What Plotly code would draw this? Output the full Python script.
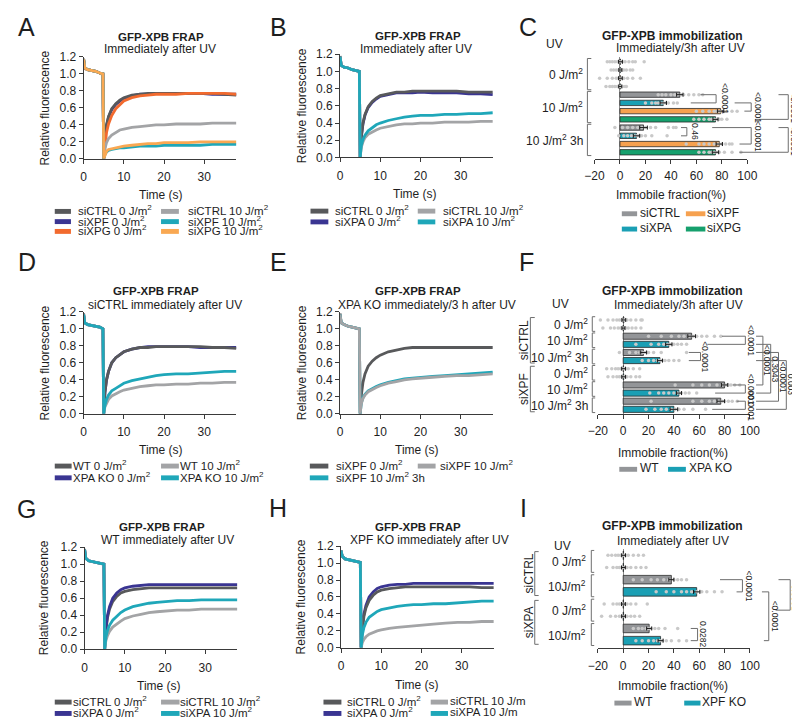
import plotly.graph_objects as go

W, H = 800, 721
FONT = "Liberation Sans, Arial, Helvetica, sans-serif"
INK = "#1e1e1e"
AXIS = "#3a3a3a"
BRACKET = "#6e6e6e"

# FRAP line colours
C_DARK = "#58595b"
C_BLUE = "#3a3592"
C_ORANGE = "#f26a2e"
C_LGRAY = "#a3a4a6"
C_TEAL = "#1fa7b9"
C_LORANGE = "#f9a852"
# bar colours
B_GRAY = "#939598"
B_TEAL = "#1a9fb4"
B_ORANGE = "#f6a14f"
B_GREEN = "#16a06d"
DOT = "#c9c9c9"

# ---------------- FRAP data (time in s, relative fluorescence) ----------------
frap_t = [0, 0.3, 1, 2, 3, 4, 4.8, 5.0, 5.3, 5.7, 6.2, 7, 8, 9, 10, 12, 14, 16, 18, 20, 23, 26, 29, 32, 35, 38]

# A
a_ctrl0 = [1.18, 1.07, 1.05, 1.04, 1.03, 1.01, 1.00, 0.00, 0.25, 0.40, 0.50, 0.59, 0.65, 0.69, 0.72, 0.75, 0.76, 0.77, 0.77, 0.77, 0.77, 0.77, 0.77, 0.77, 0.76, 0.75]
a_xpf0 = [1.17, 1.07, 1.05, 1.04, 1.03, 1.01, 1.00, 0.00, 0.24, 0.39, 0.49, 0.58, 0.64, 0.68, 0.71, 0.74, 0.76, 0.76, 0.77, 0.77, 0.77, 0.77, 0.77, 0.76, 0.76, 0.76]
a_xpg0 = [1.17, 1.06, 1.05, 1.04, 1.03, 1.01, 0.99, 0.00, 0.18, 0.31, 0.41, 0.51, 0.59, 0.64, 0.68, 0.72, 0.74, 0.75, 0.76, 0.76, 0.76, 0.77, 0.77, 0.77, 0.77, 0.76]
a_ctrl10 = [1.17, 1.07, 1.05, 1.04, 1.03, 1.01, 1.00, 0.00, 0.12, 0.19, 0.24, 0.28, 0.31, 0.34, 0.35, 0.37, 0.38, 0.39, 0.40, 0.40, 0.41, 0.41, 0.41, 0.42, 0.42, 0.42]
a_xpf10 = [1.17, 1.07, 1.05, 1.04, 1.03, 1.01, 1.00, 0.00, 0.05, 0.08, 0.10, 0.11, 0.12, 0.13, 0.13, 0.14, 0.15, 0.15, 0.15, 0.16, 0.16, 0.16, 0.16, 0.17, 0.17, 0.17]
a_xpg10 = [1.17, 1.07, 1.05, 1.04, 1.03, 1.01, 1.00, 0.00, 0.05, 0.09, 0.11, 0.12, 0.13, 0.14, 0.15, 0.16, 0.17, 0.18, 0.18, 0.19, 0.19, 0.19, 0.20, 0.20, 0.20, 0.20]

# B
b_ctrl0 = [1.18, 1.07, 1.05, 1.04, 1.02, 1.01, 1.00, 0.00, 0.25, 0.40, 0.50, 0.59, 0.65, 0.69, 0.72, 0.74, 0.76, 0.76, 0.77, 0.77, 0.77, 0.77, 0.77, 0.76, 0.76, 0.76]
b_xpa0 = [1.17, 1.07, 1.05, 1.04, 1.02, 1.01, 1.00, 0.00, 0.24, 0.39, 0.49, 0.58, 0.64, 0.68, 0.71, 0.73, 0.75, 0.75, 0.75, 0.76, 0.75, 0.75, 0.75, 0.74, 0.74, 0.73]
b_ctrl10 = [1.17, 1.07, 1.05, 1.04, 1.02, 1.01, 1.00, 0.00, 0.12, 0.18, 0.23, 0.27, 0.30, 0.32, 0.34, 0.36, 0.38, 0.39, 0.39, 0.40, 0.40, 0.41, 0.41, 0.41, 0.42, 0.42]
b_xpa10 = [1.17, 1.07, 1.05, 1.04, 1.02, 1.01, 1.00, 0.00, 0.14, 0.21, 0.26, 0.31, 0.35, 0.38, 0.40, 0.43, 0.45, 0.47, 0.48, 0.49, 0.49, 0.50, 0.50, 0.51, 0.51, 0.52]

# D
d_wt0 = [1.18, 1.07, 1.05, 1.04, 1.03, 1.02, 1.00, 0.00, 0.25, 0.40, 0.50, 0.60, 0.66, 0.70, 0.73, 0.76, 0.78, 0.78, 0.79, 0.79, 0.79, 0.79, 0.79, 0.78, 0.78, 0.77]
d_ko0 = [1.17, 1.07, 1.05, 1.04, 1.03, 1.02, 1.00, 0.00, 0.25, 0.40, 0.50, 0.60, 0.66, 0.70, 0.73, 0.76, 0.78, 0.79, 0.79, 0.79, 0.79, 0.79, 0.78, 0.78, 0.78, 0.78]
d_wt10 = [1.17, 1.07, 1.05, 1.04, 1.03, 1.02, 1.00, 0.00, 0.08, 0.13, 0.17, 0.21, 0.24, 0.26, 0.28, 0.30, 0.32, 0.33, 0.34, 0.34, 0.35, 0.35, 0.36, 0.36, 0.37, 0.37]
d_ko10 = [1.17, 1.07, 1.05, 1.04, 1.03, 1.02, 1.00, 0.00, 0.10, 0.17, 0.22, 0.27, 0.30, 0.33, 0.36, 0.39, 0.41, 0.43, 0.45, 0.46, 0.47, 0.47, 0.48, 0.49, 0.50, 0.50]

# E
e_xpf0 = [1.18, 1.07, 1.05, 1.03, 1.02, 1.01, 1.00, 0.00, 0.22, 0.37, 0.47, 0.56, 0.62, 0.66, 0.69, 0.73, 0.75, 0.77, 0.78, 0.78, 0.78, 0.78, 0.78, 0.78, 0.78, 0.78]
e_xpf10 = [1.17, 1.07, 1.05, 1.03, 1.02, 1.01, 1.00, 0.00, 0.12, 0.18, 0.22, 0.26, 0.29, 0.31, 0.33, 0.36, 0.38, 0.40, 0.41, 0.42, 0.43, 0.44, 0.45, 0.45, 0.46, 0.47]
e_xpf10_3h = [1.17, 1.07, 1.05, 1.03, 1.02, 1.01, 1.00, 0.00, 0.13, 0.19, 0.23, 0.27, 0.30, 0.32, 0.34, 0.37, 0.39, 0.41, 0.42, 0.43, 0.44, 0.45, 0.46, 0.47, 0.48, 0.49]

# G
g_ctrl0 = [1.18, 1.07, 1.04, 1.03, 1.02, 1.01, 1.00, 0.00, 0.22, 0.37, 0.47, 0.56, 0.62, 0.66, 0.68, 0.70, 0.71, 0.72, 0.72, 0.72, 0.72, 0.72, 0.72, 0.72, 0.72, 0.72]
g_xpa0 = [1.17, 1.07, 1.04, 1.03, 1.02, 1.01, 1.00, 0.00, 0.25, 0.40, 0.50, 0.60, 0.66, 0.70, 0.72, 0.74, 0.75, 0.76, 0.76, 0.76, 0.76, 0.76, 0.76, 0.76, 0.76, 0.76]
g_ctrl10 = [1.17, 1.07, 1.04, 1.03, 1.02, 1.01, 1.00, 0.00, 0.10, 0.16, 0.21, 0.26, 0.30, 0.33, 0.36, 0.39, 0.41, 0.43, 0.44, 0.45, 0.46, 0.46, 0.47, 0.47, 0.47, 0.47]
g_xpa10 = [1.17, 1.07, 1.04, 1.03, 1.02, 1.01, 1.00, 0.00, 0.14, 0.22, 0.28, 0.34, 0.39, 0.43, 0.46, 0.50, 0.52, 0.54, 0.55, 0.56, 0.57, 0.57, 0.58, 0.58, 0.58, 0.58]

# H
h_ctrl0 = [1.15, 1.08, 1.05, 1.04, 1.03, 1.02, 1.01, 0.00, 0.22, 0.37, 0.47, 0.56, 0.62, 0.66, 0.68, 0.70, 0.71, 0.72, 0.72, 0.72, 0.72, 0.72, 0.72, 0.72, 0.71, 0.71]
h_xpa0 = [1.15, 1.08, 1.05, 1.04, 1.03, 1.02, 1.01, 0.00, 0.25, 0.40, 0.50, 0.60, 0.66, 0.70, 0.72, 0.74, 0.75, 0.75, 0.76, 0.76, 0.76, 0.76, 0.76, 0.76, 0.76, 0.76]
h_ctrl10 = [1.15, 1.08, 1.05, 1.04, 1.03, 1.02, 1.01, 0.00, 0.06, 0.10, 0.13, 0.16, 0.18, 0.20, 0.21, 0.23, 0.24, 0.25, 0.26, 0.27, 0.28, 0.29, 0.30, 0.30, 0.31, 0.31]
h_xpa10 = [1.15, 1.08, 1.05, 1.04, 1.03, 1.02, 1.01, 0.00, 0.15, 0.24, 0.30, 0.36, 0.40, 0.43, 0.45, 0.47, 0.49, 0.50, 0.51, 0.51, 0.52, 0.52, 0.53, 0.54, 0.55, 0.55]

# ---------------- immobile fraction data (%) ----------------
# C: doses 0, 10, 10 3h
c_doses = ["0 J/m<sup>2</sup>", "10 J/m<sup>2</sup>", "10 J/m<sup>2</sup> 3h"]
c_ctrl_mean = [0.4, 47, 18.5]
c_xpa_mean = [0.3, 34, 13]
c_xpf_mean = [0.3, 79, 78]
c_xpg_mean = [0.2, 75, 75]
c_ctrl_sem = [1.5, 2.5, 3]
c_xpa_sem = [1.2, 2.5, 2.5]
c_xpf_sem = [1.5, 2.5, 2.5]
c_xpg_sem = [1.2, 2, 2.5]
c_ctrl_pts = [[-10, -8, -6, -4, -2, 0, 2, 4, 7, 10, 12, 19], [30, 33, 36, 40, 43, 45, 48, 50, 54, 58, 62, 65], [-4, 2, 6, 10, 14, 17, 20, 24, 28, 38, 42, 44]]
c_xpa_pts = [[-7, -5, -3, -1, 1, 3, 5, 8, 10], [20, 25, 28, 30, 32, 34, 36, 38, 42, 45], [-1, 3, 6, 9, 11, 13, 15, 17, 20, 25, 37]]
c_xpf_pts = [[-16, -10, -6, -3, -1, 1, 3, 6, 10, 16], [60, 65, 70, 74, 76, 78, 80, 82, 84, 88, 92], [52, 62, 66, 70, 74, 77, 80, 83, 86, 88]]
c_xpg_pts = [[-11, -8, -6, -4, -2, 0, 2, 4, 5], [58, 62, 66, 70, 72, 74, 76, 78, 80, 84], [62, 66, 70, 72, 74, 76, 78, 82, 88, 95]]
c_pvals = [(4, 5, "<0.0001"), (5, 6, "<0.0001"), (4, 7, "<0.0001"), (8, 9, "0.46"), (8, 10, "<0.0001"), (8, 11, "<0.0001")]

# F: siCTRL 0, 10, 10 3h, siXPF 0, 10, 10 3h
f_groups = ["siCTRL", "siXPF"]
f_doses = ["0 J/m<sup>2</sup>", "10 J/m<sup>2</sup>", "10 J/m<sup>2</sup> 3h"]
f_wt_mean = [0.5, 54, 16, 0.3, 80, 77]
f_ko_mean = [0.2, 36, 29, 0.4, 44, 40]
f_wt_sem = [1.5, 3, 2.5, 1.5, 2.5, 3]
f_ko_sem = [1.2, 2.5, 2, 1.5, 2, 3]
f_wt_pts = [[-18, -12, -8, -5, -3, -1, 1, 3, 6, 10, 14, 15], [20, 30, 38, 44, 48, 52, 55, 58, 62, 66, 72, 77], [-3, 5, 10, 13, 16, 18, 20, 24, 30, 50],
            [-13, -9, -6, -4, -2, 0, 2, 4, 8, 13], [41, 55, 62, 68, 74, 78, 81, 83, 85, 88, 92], [22, 55, 62, 68, 72, 75, 78, 80, 83, 86, 90]]
f_ko_pts = [[-16, -10, -7, -4, -2, 0, 2, 4, 7, 10, 14], [10, 22, 28, 32, 35, 38, 40, 43, 46, 50], [15, 20, 24, 27, 29, 31, 33, 36, 40, 44],
            [-12, -8, -5, -3, -1, 1, 3, 6, 10, 13], [21, 28, 32, 36, 40, 43, 46, 49, 52, 58], [18, 25, 30, 34, 38, 41, 44, 48, 55, 65]]
f_pvals = [(2, 3, "<0.0001"), (4, 5, "<0.0001"), (8, 9, "<0.0001"), (10, 11, "<0.0001"),
           (2, 8, "<0.0001"), (3, 9, "0.3043"), (4, 10, "<0.0001"), (5, 11, "0.003")]

# I: siCTRL 0, 10, siXPA 0, 10
i_groups = ["siCTRL", "siXPA"]
i_doses = ["0 J/m<sup>2</sup>", "10J/m<sup>2</sup>"]
i_wt_mean = [0.3, 38, 0.2, 20.5]
i_ko_mean = [0.2, 58, 0.3, 29.5]
i_wt_sem = [1.5, 2, 1.5, 2]
i_ko_sem = [1.5, 2.5, 1.5, 2]
i_wt_pts = [[-12, -9, -6, -4, -2, 0, 2, 4, 8, 12, 16], [8, 15, 22, 27, 32, 36, 40, 43, 46, 50], [-15, -8, -5, -3, -1, 1, 3, 6, 10, 19], [8, 12, 15, 18, 20, 22, 25, 28, 33, 43]]
i_ko_pts = [[-13, -8, -5, -3, -1, 1, 3, 6, 10, 14, 18], [26, 34, 40, 46, 50, 54, 58, 62, 66, 72, 78], [-17, -10, -6, -3, -1, 1, 3, 6, 9, 13], [10, 15, 20, 24, 27, 29, 31, 34, 38, 44, 50]]
i_pvals = [(2, 3, "<0.0001"), (6, 7, "0.0282"), (3, 7, "<0.0001"), (2, 4.5, "<0.0001")]

SQ = " J/m<sup>2</sup>"

# ---------------- helpers ----------------
fig = go.Figure()
axes = {}
ann = []
shp = []


def px(x):
    return x / W


def py(y):
    return 1 - y / H


def label(x, y, text, size=12, anchor="center", angle=0, yref="paper", bold=False):
    ann.append(dict(x=px(x), y=py(y) if yref == "paper" else y, xref="paper", yref=yref,
                    text="<b>%s</b>" % text if bold else text, showarrow=False,
                    xanchor=anchor, yanchor="middle", textangle=angle, borderpad=0,
                    font=dict(family=FONT, size=size, color=INK)))


def base_axis():
    return dict(showline=True, linecolor=AXIS, linewidth=1, ticks="outside", ticklen=4,
                tickwidth=1, tickcolor=AXIS, showgrid=False, zeroline=False,
                tickfont=dict(family=FONT, size=12, color=INK))


def sfx(n):
    return "" if n == 1 else str(n)


def frap_panel(n, box, curves, subtitle, title_xy, sub_xy, ytitle_x, time_xy):
    s = sfx(n)
    x0, x1, ytop, ybot = box
    axes["xaxis" + s] = dict(base_axis(), domain=[px(x0), px(x1)], range=[0, 38],
                             tickvals=[0, 10, 20, 30], ticklabelstandoff=3, anchor="y" + s)
    axes["yaxis" + s] = dict(base_axis(), domain=[py(ybot), py(ytop)], range=[0, 1.2],
                             tickvals=[0, 0.2, 0.4, 0.6, 0.8, 1.0, 1.2], tickformat=".1f", anchor="x" + s)
    for vals, color in curves:
        fig.add_trace(go.Scatter(x=frap_t, y=vals, mode="lines", line=dict(color=color, width=2.8),
                                 xaxis="x" + s, yaxis="y" + s, showlegend=False, hoverinfo="skip"))
    label(*title_xy, "GFP-XPB FRAP", size=11.5, bold=True)
    label(*sub_xy, subtitle)
    label(ytitle_x, (ytop + ybot) / 2, "Relative fluorescence", angle=-90)
    label(*time_xy, "Time (s)")


def legend(items, colors, col_sw, col_lab, rows_y, sw_h=5, size=11.5):
    for i, (txt, col) in enumerate(zip(items, colors)):
        r, c = divmod(i, 2)
        xa, xb = col_sw[c]
        y = rows_y[r]
        shp.append(dict(type="rect", xref="paper", yref="paper", x0=px(xa), x1=px(xb),
                        y0=py(y + sw_h / 2), y1=py(y - sw_h / 2), fillcolor=col, line=dict(width=0)))
        label(col_lab[c] - 1, y - 1, txt, anchor="left", size=size)


def bar_axes(n, box, yrange, title, subtitle, title_xy, sub_xy, xt_xy):
    s = sfx(n)
    x0, x1, ytop, ybot = box
    axes["xaxis" + s] = dict(base_axis(), domain=[px(x0), px(x1)], range=[-20, 100],
                             tickvals=[-20, 0, 20, 40, 60, 80, 100], zeroline=True, ticklabelstandoff=2,
                             zerolinecolor="#8c8c8c", zerolinewidth=1, anchor="y" + s)
    axes["yaxis" + s] = dict(domain=[py(ybot), py(ytop)], range=yrange, anchor="x" + s, visible=False)
    label(*title_xy, title, size=12, bold=True)
    label(*sub_xy, subtitle)
    label(*xt_xy, "Immobile fraction(%)")


def bars(n, rows, means, sems, pts, color, width):
    s = sfx(n)
    fig.add_trace(go.Bar(x=means, y=rows, orientation="h", width=width,
                         marker=dict(color=color, line=dict(color="#2b2b2b", width=0.8)),
                         xaxis="x" + s, yaxis="y" + s, showlegend=False, hoverinfo="skip"))
    for r, p in zip(rows, pts):
        fig.add_trace(go.Scatter(x=p, y=[r] * len(p), mode="markers",
                                 marker=dict(size=3.5, color=DOT),
                                 xaxis="x" + s, yaxis="y" + s, showlegend=False, hoverinfo="skip"))
    fig.add_trace(go.Scatter(x=means, y=rows, mode="markers", marker=dict(size=1, color="rgba(0,0,0,0)"),
                             error_x=dict(type="data", array=sems, color="#1a1a1a", thickness=1, width=2),
                             xaxis="x" + s, yaxis="y" + s, showlegend=False, hoverinfo="skip"))


def bracket(n, x_v, x_end, r0, r1):
    shp.append(dict(type="path", xref="paper", yref="y" + sfx(n),
                    path="M%f,%f L%f,%f L%f,%f L%f,%f" % (px(x_end), r0, px(x_v), r0, px(x_v), r1, px(x_end), r1),
                    line=dict(color=BRACKET, width=1)))


def pbrackets(n, comps, geo):
    for (ra, rb, txt), (sa, sb, v, tx) in zip(comps, geo):
        shp.append(dict(type="path", xref="paper", yref="y" + sfx(n),
                        path="M%f,%f L%f,%f L%f,%f L%f,%f" % (px(sa), ra, px(v), ra, px(v), rb, px(sb), rb),
                        line=dict(color=BRACKET, width=1)))
        label(tx, (ra + rb) / 2, txt, size=8.5, angle=90, yref="y" + sfx(n))


# ---------------- FRAP panels ----------------
frap_panel(1, (67.3, 224, 42.7, 146.7),
           [(a_xpf0, C_BLUE), (a_ctrl0, C_DARK), (a_xpg0, C_ORANGE), (a_ctrl10, C_LGRAY), (a_xpf10, C_TEAL), (a_xpg10, C_LORANGE)],
           "Immediately after UV", (146.7, 22.3), (145.5, 35), 27.3, (146.7, 183.3))
legend(["siCTRL 0" + SQ, "siCTRL 10" + SQ, "siXPF 0" + SQ, "siXPF 10" + SQ, "siXPG 0" + SQ, "siXPG 10" + SQ],
       [C_DARK, C_LGRAY, C_BLUE, C_TEAL, C_ORANGE, C_LORANGE],
       [(37.7, 54.3), (146.7, 165)], [62, 174.3], [200.3, 210.7, 220.7])

frap_panel(2, (330.3, 487, 40, 145.3),
           [(b_xpa0, C_BLUE), (b_ctrl0, C_DARK), (b_ctrl10, C_LGRAY), (b_xpa10, C_TEAL)],
           "Immediately after UV", (410, 21.7), (408, 34.3), 290.7, (406.7, 183))
legend(["siCTRL 0" + SQ, "siCTRL 10" + SQ, "siXPA 0" + SQ, "siXPA 10" + SQ],
       [C_DARK, C_LGRAY, C_BLUE, C_TEAL],
       [(300, 318.3), (410, 428)], [325, 435.7], [200, 211])

frap_panel(4, (67.3, 224, 302.7, 406.7),
           [(d_ko0, C_BLUE), (d_wt0, C_DARK), (d_wt10, C_LGRAY), (d_ko10, C_TEAL)],
           "siCTRL immediately after UV", (142, 281), (151, 295.7), 27.3, (146.7, 443.3))
legend(["WT 0" + SQ, "WT 10" + SQ, "XPA KO 0" + SQ, "XPA KO 10" + SQ],
       [C_DARK, C_LGRAY, C_BLUE, C_TEAL],
       [(37.7, 55), (146.7, 165)], [56.5, 166.5], [460, 472])

frap_panel(5, (330.3, 487, 302.7, 406.7),
           [(e_xpf0, C_DARK), (e_xpf10_3h, C_TEAL), (e_xpf10, C_LGRAY)],
           "XPA KO immediately/3 h after UV", (410, 281), (419, 296), 290.7, (409, 443.3))
legend(["siXPF 0" + SQ, "siXPF 10" + SQ, "siXPF 10" + SQ + " 3h"],
       [C_DARK, C_LGRAY, C_TEAL],
       [(299.3, 318.3), (410, 428.3)], [325.7, 432.3], [460, 472])

frap_panel(7, (68.3, 225, 542.7, 646.7),
           [(g_ctrl0, C_DARK), (g_xpa0, C_BLUE), (g_ctrl10, C_LGRAY), (g_xpa10, C_TEAL)],
           "WT immediately after UV", (147.5, 521.7), (153, 535.7), 26.7, (145, 684))
legend(["siCTRL 0" + SQ, "siCTRL 10" + SQ, "siXPA 0" + SQ, "siXPA 10" + SQ],
       [C_DARK, C_LGRAY, C_BLUE, C_TEAL],
       [(37.7, 55), (146.7, 165.7)], [56.5, 166.5], [700.7, 712.3])

frap_panel(8, (331.3, 488, 541.7, 645.3),
           [(h_xpa0, C_BLUE), (h_ctrl0, C_DARK), (h_ctrl10, C_LGRAY), (h_xpa10, C_TEAL)],
           "XPF KO immediately after UV", (410.5, 521.7), (422, 535.7), 290.7, (409, 683.3))
legend(["siCTRL 0" + SQ, "siCTRL 10 J/m", "siXPA 0" + SQ, "siXPA 10 J/m"],
       [C_DARK, C_LGRAY, C_BLUE, C_TEAL],
       [(313.3, 331.7), (423.3, 441)], [337.3, 443.3], [700.7, 712.3])

# ---------------- C ----------------
bar_axes(3, (591.3, 748, 43, 146.7), [11.8, -0.56], "GFP-XPB immobilization", "Immediately/3h after UV",
         (671.7, 21.7), (679.3, 33.3), (669.3, 183.3))
for k, (m, e, p, col) in enumerate([(c_ctrl_mean, c_ctrl_sem, c_ctrl_pts, B_GRAY), (c_xpa_mean, c_xpa_sem, c_xpa_pts, B_TEAL),
                                    (c_xpf_mean, c_xpf_sem, c_xpf_pts, B_ORANGE), (c_xpg_mean, c_xpg_sem, c_xpg_pts, B_GREEN)]):
    bars(3, [4 * d + k for d in range(len(c_doses))], m, e, p, col, 0.65)
label(550, 30, "UV")
for d, txt in enumerate(c_doses):
    label(581, 4 * d + 1.5, txt, anchor="right", yref="y3")
    bracket(3, 584, 588, 4 * d - 0.4, 4 * d + 3.4)
pbrackets(3, c_pvals, [(700, 690, 716, 725), (735, 745, 752, 759), (780, 756, 790, 796),
                       (680, 680, 686, 695), (712, 740, 752, 759), (780, 740, 790, 796)])
legend(["siCTRL", "siXPF", "siXPA", "siXPG"], [B_GRAY, B_ORANGE, B_TEAL, B_GREEN],
       [(619.3, 635), (685, 705)], [638, 707], [202.7, 218.3], size=12)

# ---------------- F ----------------
bar_axes(6, (594.7, 750.7, 306.7, 406.7), [11.55, -0.52], "GFP-XPB immobilization", "Immediately/3h after UV",
         (671.7, 281.7), (677.7, 296), (671.7, 446.7))
bars(6, [2 * k for k in range(6)], f_wt_mean, f_wt_sem, f_wt_pts, B_GRAY, 0.75)
bars(6, [2 * k + 1 for k in range(6)], f_ko_mean, f_ko_sem, f_ko_pts, B_TEAL, 0.75)
label(556, 295, "UV")
for k in range(6):
    label(586, 2 * k + 0.5, f_doses[k % 3], anchor="right", yref="y6")
    bracket(6, 589, 592, 2 * k - 0.4, 2 * k + 1.4)
for g, txt in enumerate(f_groups):
    label(519, 6 * g + 2.5, txt, angle=-90, yref="y6")
    bracket(6, 525.5, 530, 6 * g - 0.3, 6 * g + 5.3)
pbrackets(6, f_pvals, [(722, 707, 746, 752), (688, 688, 700, 705), (733, 715, 746, 752), (737, 712, 746, 752),
                       (757, 757, 764, 769), (757, 757, 772, 777), (757, 757, 780, 785), (757, 757, 788, 793)])
legend(["WT", "XPA KO"], [B_GRAY, B_TEAL], [(616.7, 635), (666.7, 685)], [638, 688], [463.3], size=12)

# ---------------- I ----------------
bar_axes(9, (594.7, 750.7, 545, 646), [7.64, -0.48], "GFP-XPB immobilization", "Immediately after UV",
         (671.7, 521), (671.7, 536), (671.7, 684))
bars(9, [2 * k for k in range(4)], i_wt_mean, i_wt_sem, i_wt_pts, B_GRAY, 0.7)
bars(9, [2 * k + 1 for k in range(4)], i_ko_mean, i_ko_sem, i_ko_pts, B_TEAL, 0.7)
label(558, 541.7, "UV")
for k in range(4):
    label(584, 2 * k + 0.5, i_doses[k % 2], anchor="right", yref="y9")
    bracket(9, 588, 591, 2 * k - 0.4, 2 * k + 1.4)
for g, txt in enumerate(i_groups):
    label(524, 4 * g + 1.5, txt, angle=-90, yref="y9")
    bracket(9, 530, 534, 4 * g - 0.3, 4 * g + 3.3)
pbrackets(9, i_pvals, [(720, 737, 743, 750), (690, 690, 697, 703), (763, 765, 770, 776), (780, 777, 792, 797)])
legend(["WT", "XPF KO"], [B_GRAY, B_TEAL], [(611.7, 629.3), (683.3, 700)], [632, 702], [701.7], size=12)

# ---------------- panel letters ----------------
for txt, x, y in [("A", 9, 12), ("B", 267, 12), ("C", 523, 12),
                  ("D", 9, 252), ("E", 267, 252), ("F", 522, 252),
                  ("G", 9, 504), ("H", 267, 503), ("I", 518, 503)]:
    label(x, y, txt, size=25)

fig.update_layout(width=W, height=H, margin=dict(l=0, r=0, t=0, b=0),
                  paper_bgcolor="white", plot_bgcolor="white", barmode="overlay",
                  font=dict(family=FONT, size=12, color=INK), showlegend=False,
                  annotations=ann, shapes=shp, **axes)

fig.write_html("out.html")
